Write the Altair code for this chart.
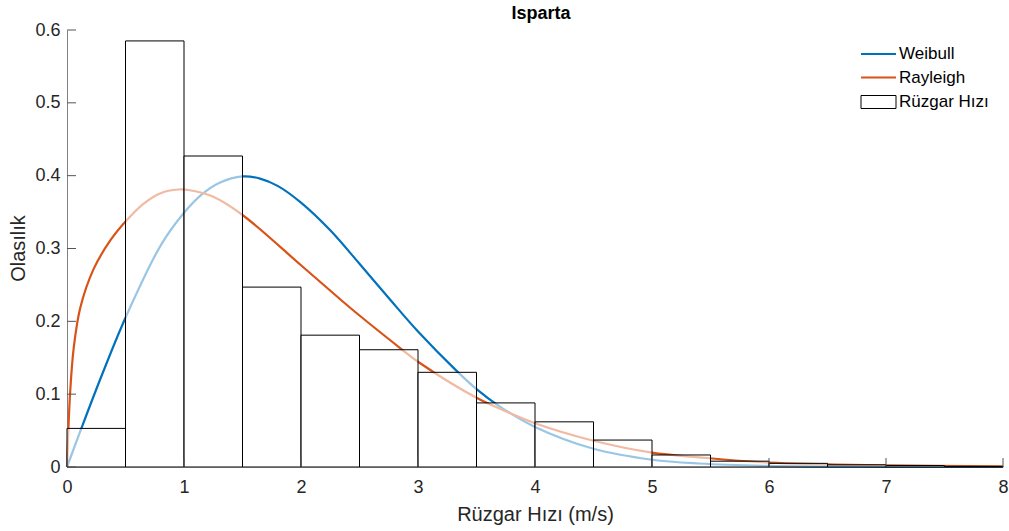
import altair as alt
import pandas as pd

# Histogram bins (m/s) and relative frequencies
bin_left = [0.0, 0.5, 1.0, 1.5, 2.0, 2.5, 3.0, 3.5, 4.0, 4.5, 5.0, 5.5, 6.0, 6.5, 7.0, 7.5]
bin_width = 0.5
bin_height = [0.053, 0.585, 0.427, 0.247, 0.181, 0.161, 0.130, 0.088,
              0.062, 0.037, 0.0165, 0.008, 0.005, 0.003, 0.002, 0.0008]

# Weibull curve
weib_x = [0.0, 0.125, 0.3, 0.5, 0.8, 1.0, 1.15, 1.3, 1.5, 1.65, 1.8, 2.0, 2.25, 2.5,
          2.75, 3.0, 3.33, 3.5, 3.7, 4.0, 4.5, 5.0, 5.4, 6.0, 7.0, 8.0]
weib_y = [0.0, 0.054, 0.127, 0.205, 0.304, 0.349, 0.374, 0.390, 0.399, 0.396, 0.386,
          0.363, 0.325, 0.279, 0.232, 0.186, 0.132, 0.107, 0.083, 0.055, 0.025,
          0.0100, 0.0048, 0.0015, 0.0003, 0.0]

# Rayleigh curve
ray_x = [0.0, 0.026, 0.057, 0.114, 0.228, 0.37, 0.5, 0.65, 0.8, 0.95, 1.05, 1.25, 1.5,
         2.0, 2.33, 2.5, 2.85, 3.0, 3.5, 3.7, 4.0, 4.5, 5.0, 5.4, 6.0, 7.0, 8.0]
ray_y = [0.0, 0.100, 0.163, 0.219, 0.272, 0.311, 0.337, 0.361, 0.376, 0.381, 0.380,
         0.371, 0.346, 0.277, 0.231, 0.208, 0.163, 0.1445, 0.095, 0.080, 0.060,
         0.036, 0.0197, 0.0133, 0.0060, 0.0023, 0.001]

x_ticks = [0, 1, 2, 3, 4, 5, 6, 7, 8]
y_ticks = [0.0, 0.1, 0.2, 0.3, 0.4, 0.5, 0.6]

legend_labels = ["Weibull", "Rayleigh", "Rüzgar Hızı"]
title_text = "Isparta"

BLUE = "#0072BD"
ORANGE = "#D95319"
FONT = "Liberation Sans"
TXT = "#262626"

W, H = 936, 437

bars = pd.DataFrame({"x0": bin_left,
                     "x1": [b + bin_width for b in bin_left],
                     "h": bin_height})
weib = pd.DataFrame({"x": weib_x, "y": weib_y})
ray = pd.DataFrame({"x": ray_x, "y": ray_y})

xscale = alt.Scale(domain=[0, 8], nice=False, zero=False)
yscale = alt.Scale(domain=[0, 0.6], nice=False)

xaxis = alt.Axis(values=x_ticks, format="~g", ticks=False, grid=False,
                 domainColor="#bdbdbd", domainWidth=1,
                 labelFont=FONT, labelFontSize=18, labelColor=TXT, labelPadding=11,
                 labelFlush=False,
                 title="Rüzgar Hızı (m/s)", titleFont=FONT, titleFontSize=20,
                 titleFontWeight="normal", titleColor=TXT, titleY=53,
                 titleBaseline="alphabetic")
yaxis = alt.Axis(values=y_ticks, format="~g", ticks=False, grid=False,
                 domainColor="#808080", domainWidth=1,
                 labelFont=FONT, labelFontSize=18, labelColor=TXT, labelPadding=7,
                 labelFlush=False,
                 title="Olasılık", titleFont=FONT, titleFontSize=20,
                 titleFontWeight="normal", titleColor=TXT, titleX=-43, titleY=218,
                 titleBaseline="alphabetic", titleAngle=270)

weib_line = alt.Chart(weib).mark_line(color=BLUE, strokeWidth=2.2, interpolate="catmull-rom").encode(
    x=alt.X("x:Q", scale=xscale, axis=xaxis),
    y=alt.Y("y:Q", scale=yscale, axis=yaxis),
)
ray_line = alt.Chart(ray).mark_line(color=ORANGE, strokeWidth=2.2, interpolate="catmull-rom").encode(
    x=alt.X("x:Q", scale=xscale),
    y=alt.Y("y:Q", scale=yscale),
)
hist = alt.Chart(bars).mark_rect(fill="white", fillOpacity=0.6, stroke="black",
                                 strokeWidth=1, strokeOpacity=1).encode(
    x=alt.X("x0:Q", scale=xscale),
    x2="x1:Q",
    y=alt.Y("h:Q", scale=yscale),
    y2=alt.datum(0),
)

ytick_df = pd.DataFrame({"v": y_ticks})
xtick_df = pd.DataFrame({"v": x_ticks})
ytick_rules = alt.Chart(ytick_df).mark_rule(color="#555555", strokeWidth=1).encode(
    y=alt.Y("v:Q", scale=yscale), x=alt.value(0), x2=alt.value(9))
xtick_rules = alt.Chart(xtick_df).mark_rule(color="#555555", strokeWidth=1).encode(
    x=alt.X("v:Q", scale=xscale), y=alt.value(H), y2=alt.value(H - 9))

# Legend (decoration)
leg_lines = pd.DataFrame({"label": legend_labels[:2], "py": [24, 47.5],
                          "c": [BLUE, ORANGE]})
leg_line_marks = alt.Chart(leg_lines).mark_rule(strokeWidth=2.2).encode(
    y=alt.Y("py:Q", scale=None), x=alt.value(794), x2=alt.value(829),
    color=alt.Color("c:N", scale=None))
leg_box = alt.Chart(pd.DataFrame({"label": [legend_labels[2]]})).mark_rect(
    fill="white", stroke="black", strokeWidth=1).encode(
    x=alt.value(794), x2=alt.value(829), y=alt.value(65.5), y2=alt.value(78.5))
leg_text = alt.Chart(pd.DataFrame({"label": legend_labels, "py": [24, 47.5, 72]})).mark_text(
    align="left", baseline="middle", font=FONT, fontSize=17, color="black").encode(
    x=alt.value(832), y=alt.Y("py:Q", scale=None), text="label:N")

# Title (as text)
title_mark = alt.Chart(pd.DataFrame({"t": [title_text]})).mark_text(
    align="center", baseline="alphabetic", font="Liberation Sans Narrow, Liberation Sans",
    fontSize=18, fontWeight="bold", color="black").encode(
    x=alt.value(W / 2 + 6), y=alt.value(-11), text="t:N")

chart = alt.layer(weib_line, ray_line, hist, ytick_rules, xtick_rules,
                  leg_line_marks, leg_box, leg_text, title_mark).properties(
    width=W, height=H,
    padding={"left": 67, "top": 30, "right": 6, "bottom": 64},
    autosize=alt.AutoSizeParams(type="none"),
    background="white",
).configure_view(stroke=None)

chart.save("out.html", embed_options={"renderer": "svg", "actions": False})
